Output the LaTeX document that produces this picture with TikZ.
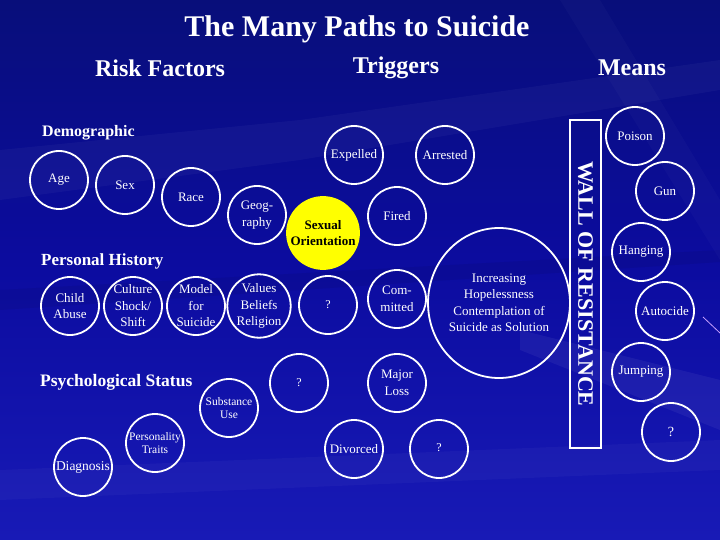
\documentclass[tikz,border=0pt]{standalone}
\usepackage{fontspec}
\usetikzlibrary{shapes.geometric}
\setmainfont{Liberation Serif}
\newcommand{\fsz}[2]{\fontsize{#1}{#2}\selectfont}
\definecolor{bgtop}{RGB}{8,14,122}
\definecolor{bgmid}{RGB}{12,12,160}
\definecolor{bgbot}{RGB}{24,26,182}
\definecolor{sexyellow}{RGB}{255,255,0}
\definecolor{streak}{RGB}{200,160,255}
\tikzset{
  circ/.style={circle, draw=white, line width=1.8pt, minimum size=58pt, inner sep=0pt,
    text=white, font=\fsz{13}{16.5}, align=center},
  smallcirc/.style={circ, font=\fsz{11.5}{13.5}},
  heading/.style={text=white, font=\bfseries\fsz{24}{28}, inner sep=0pt},
  subheading/.style={text=white, font=\bfseries\fsz{17}{20}, inner sep=0pt, anchor=west},
}
\begin{document}
\begin{tikzpicture}[x=1pt,y=-1pt]
\useasboundingbox (0,0) rectangle (720,540);
% background
\shade[top color=bgtop, bottom color=bgbot, middle color=bgmid] (0,0) rectangle (720,540);
\fill[white, opacity=0.035] (0,150) -- (300,120) -- (720,60) -- (720,90) -- (300,160) -- (0,200) -- cycle;
\fill[white, opacity=0.05] (520,330) -- (720,380) -- (720,430) -- (520,350) -- cycle;
\fill[white, opacity=0.03] (0,470) -- (720,440) -- (720,470) -- (0,500) -- cycle;
\fill[black, opacity=0.06] (0,290) -- (720,250) -- (720,262) -- (0,310) -- cycle;
\fill[white, opacity=0.025] (560,0) -- (600,0) -- (720,200) -- (720,260) -- cycle;
% titles
\node[heading, font=\bfseries\fsz{30}{34}] (title) at (357,29) {The Many Paths to Suicide};
\node[heading] (risk) at (160,68) {Risk Factors};
\node[heading] (trig) at (396,68) {Triggers};
\node[heading] (means) at (632,68) {Means};
\node[subheading, font=\bfseries\fsz{16}{20}] (demo) at (42,133) {Demographic};
\node[subheading] (pers) at (41,261) {Personal History};
\node[subheading, font=\bfseries\fsz{17.5}{20}] (psych) at (40,382) {Psychological Status};
% demographic
\node[circ] (age) at (59,180) {Age};
\node[circ] (sex) at (125,185) {Sex};
\node[circ] (race) at (191,197) {Race};
\node[circ] (geo) at (257,215) {Geog-\\raphy};
% personal history
\node[circ] (child) at (70,306) {Child\\Abuse};
\node[circ] (cult) at (133,306) {Culture\\Shock/\\Shift};
\node[circ] (model) at (196,306) {Model\\for\\Suicide};
\node[circ] (values) at (259,306) {Values\\Beliefs\\Religion};
% psychological
\node[smallcirc] (subst) at (229,408) {Substance\\Use};
\node[smallcirc] (perso) at (155,443) {Personality\\Traits};
\node[circ, font=\fsz{13.5}{16}] (diag) at (83,467) {Diagnosis};
% triggers
\node[circ, fill=sexyellow, draw=sexyellow, minimum size=72pt, text=black, font=\bfseries\fsz{13}{16.5}] (sexor) at (323,233) {Sexual\\Orientation};
\node[circ] (expel) at (354,155) {Expelled};
\node[circ] (arrest) at (445,155) {Arrested};
\node[circ] (fired) at (397,216) {Fired};
\node[circ, font=\fsz{12}{14}] (q1) at (328,305) {?};
\node[circ] (commit) at (397,299) {Com-\\mitted};
\node[circ, font=\fsz{12}{14}] (q2) at (299,383) {?};
\node[circ] (major) at (397,383) {Major\\Loss};
\node[circ] (divorce) at (354,449) {Divorced};
\node[circ, font=\fsz{12}{14}] (q3) at (439,449) {\raisebox{3pt}{?}};
\node[ellipse, draw=white, line width=1.8pt, inner sep=0pt, text=white, font=\fsz{13}{16.5}, align=center,
  minimum width=128pt, minimum height=150pt] (hope) at (499,303)
  {Increasing\\Hopelessness\\Contemplation of\\Suicide as Solution};
% wall
\node[draw=white, line width=1.8pt, minimum width=31pt, minimum height=328pt, inner sep=0pt] (wall) at (585.5,284) {};
\node[text=white, rotate=-90, font=\bfseries\fsz{22}{24}, inner sep=0pt] (walltext) at (wall.center) {WALL OF RESISTANCE};
% means
\node[circ] (poison) at (635,136) {Poison};
\node[circ] (gun) at (665,191) {Gun};
\node[circ] (hang) at (641,252) {Hanging};
\node[circ] (auto) at (665,311) {Autocide};
\node[circ] (jump) at (641,372) {Jumping};
\node[circ, font=\fsz{14}{16}] (q4) at (671,432) {?};
% stray line
\coordinate (sa) at (703,317);
\coordinate (sb) at (720,333);
\draw[streak, line width=0.8pt] (sa) -- (sb);
\end{tikzpicture}
\end{document}
